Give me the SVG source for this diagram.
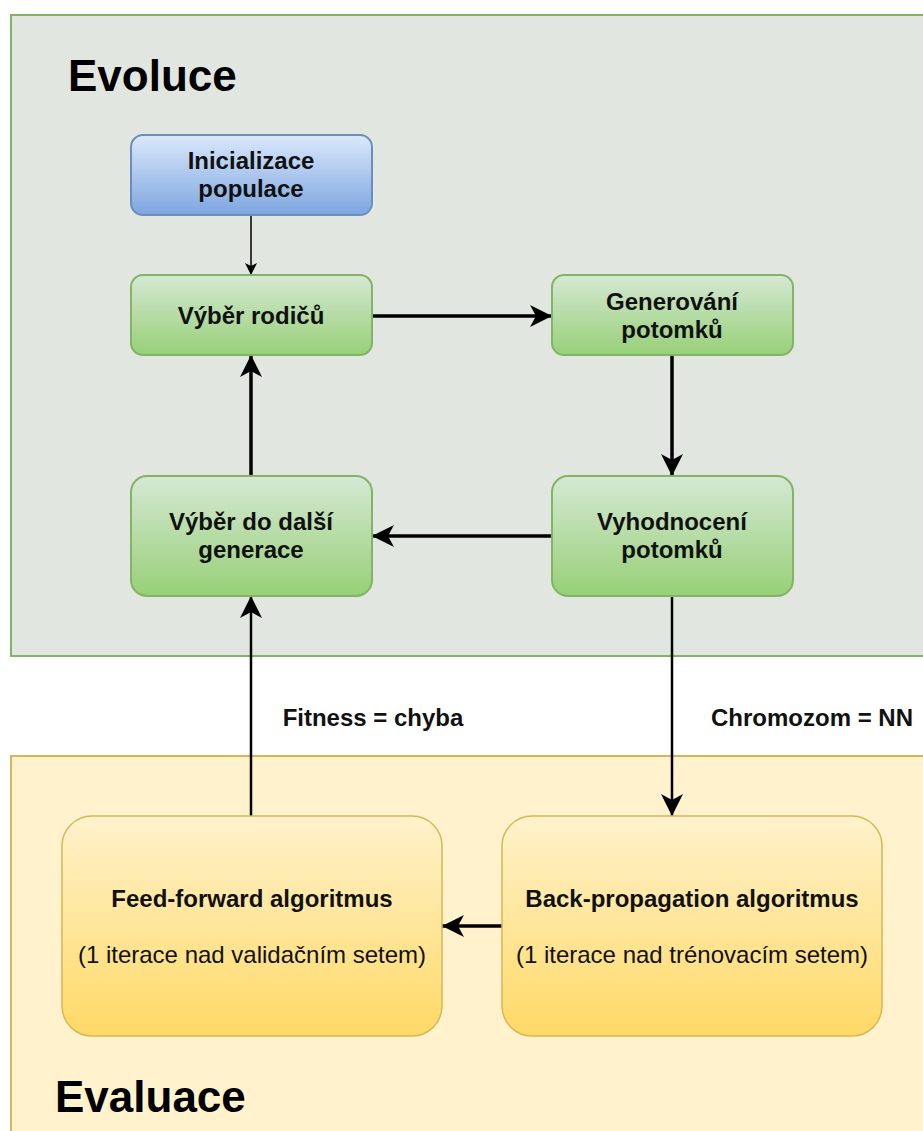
<svg xmlns="http://www.w3.org/2000/svg" width="923" height="1131" viewBox="0 0 923 1131">
  <defs>
    <linearGradient id="gGreen" x1="0" y1="0" x2="0" y2="1">
      <stop offset="0" stop-color="#d5e8d4"/>
      <stop offset="1" stop-color="#97d077"/>
    </linearGradient>
    <linearGradient id="gBlue" x1="0" y1="0" x2="0" y2="1">
      <stop offset="0" stop-color="#dae8fc"/>
      <stop offset="1" stop-color="#7ea6e0"/>
    </linearGradient>
    <linearGradient id="gYellow" x1="0" y1="0" x2="0" y2="1">
      <stop offset="0" stop-color="#fff2cc"/>
      <stop offset="1" stop-color="#ffd966"/>
    </linearGradient>
    <marker id="headBig" markerUnits="userSpaceOnUse" markerWidth="22" markerHeight="22" refX="22" refY="11" orient="auto" viewBox="0 0 22 22">
      <path d="M0,0 L22,11 L0,22 L6,11 Z" fill="#000"/>
    </marker>
    <marker id="headSmall" markerUnits="userSpaceOnUse" markerWidth="12" markerHeight="12" refX="12" refY="6" orient="auto" viewBox="0 0 12 12">
      <path d="M0,0 L12,6 L0,12 L3,6 Z" fill="#000"/>
    </marker>
  </defs>
  <style>
    .lbl { font-family: "Liberation Sans", Arial, sans-serif; font-size: 24px; fill: #111; text-anchor: middle; }
    .b { font-weight: bold; }
    .title { font-family: "Liberation Sans", Arial, sans-serif; font-size: 44px; font-weight: bold; fill: #000; }
    .green { fill: url(#gGreen); stroke: #82b366; stroke-width: 2; }
    .blue { fill: url(#gBlue); stroke: #6c8ebf; stroke-width: 2; }
    .yellow { fill: url(#gYellow); stroke: #d6b656; stroke-width: 1.5; }
    .edge { fill: none; stroke: #000; }
  </style>

  <rect width="923" height="1131" fill="#ffffff"/>

  <!-- containers -->
  <g id="evoluce">
    <rect x="11" y="15" width="925" height="641" fill="#e1e7e0" stroke="#82b366" stroke-width="2"/>
    <text class="title" x="68" y="91">Evoluce</text>
  </g>
  <g id="evaluace">
    <rect x="11" y="756" width="925" height="390" fill="#fff2cc" stroke="#d6b656" stroke-width="2"/>
    <text class="title" x="55" y="1112">Evaluace</text>
  </g>

  <!-- connectors -->
  <g id="connectors">
    <line class="edge" x1="251" y1="215" x2="251" y2="275" stroke-width="1.5" marker-end="url(#headSmall)"/>
    <line class="edge" x1="372" y1="316" x2="552" y2="316" stroke-width="3.5" marker-end="url(#headBig)"/>
    <line class="edge" x1="672" y1="355" x2="672" y2="476" stroke-width="3.5" marker-end="url(#headBig)"/>
    <line class="edge" x1="552" y1="536" x2="372" y2="536" stroke-width="3.5" marker-end="url(#headBig)"/>
    <line class="edge" x1="251" y1="476" x2="251" y2="355" stroke-width="3.5" marker-end="url(#headBig)"/>
    <line class="edge" x1="672" y1="596" x2="672" y2="816" stroke-width="2.5" marker-end="url(#headBig)"/>
    <line class="edge" x1="251" y1="816" x2="251" y2="596" stroke-width="2.5" marker-end="url(#headBig)"/>
    <line class="edge" x1="502" y1="926" x2="442" y2="926" stroke-width="3.5" marker-end="url(#headBig)"/>
    <text class="lbl b" x="373" y="726">Fitness = chyba</text>
    <text class="lbl b" x="812" y="726">Chromozom = NN</text>
  </g>

  <!-- nodes -->
  <g id="inicializace">
    <rect class="blue" x="131" y="135" width="241" height="80" rx="12"/>
    <text class="lbl b" x="251" y="169">Inicializace</text>
    <text class="lbl b" x="251" y="197">populace</text>
  </g>
  <g id="vyber-rodicu">
    <rect class="green" x="131" y="275" width="241" height="80" rx="12"/>
    <text class="lbl b" x="251" y="324">Výběr rodičů</text>
  </g>
  <g id="generovani">
    <rect class="green" x="552" y="275" width="241" height="80" rx="12"/>
    <text class="lbl b" x="672" y="310">Generování</text>
    <text class="lbl b" x="672" y="338">potomků</text>
  </g>
  <g id="vyber-dalsi">
    <rect class="green" x="131" y="476" width="241" height="120" rx="16"/>
    <text class="lbl b" x="251" y="530">Výběr do další</text>
    <text class="lbl b" x="251" y="558">generace</text>
  </g>
  <g id="vyhodnoceni">
    <rect class="green" x="552" y="476" width="241" height="120" rx="16"/>
    <text class="lbl b" x="672" y="530">Vyhodnocení</text>
    <text class="lbl b" x="672" y="558">potomků</text>
  </g>
  <g id="feed-forward">
    <rect class="yellow" x="62" y="816" width="380" height="220" rx="30"/>
    <text class="lbl b" x="252" y="907">Feed-forward algoritmus</text>
    <text class="lbl" x="252" y="963">(1 iterace nad validačním setem)</text>
  </g>
  <g id="back-propagation">
    <rect class="yellow" x="502" y="816" width="380" height="220" rx="30"/>
    <text class="lbl b" x="692" y="907">Back-propagation algoritmus</text>
    <text class="lbl" x="692" y="963">(1 iterace nad trénovacím setem)</text>
  </g>
</svg>
